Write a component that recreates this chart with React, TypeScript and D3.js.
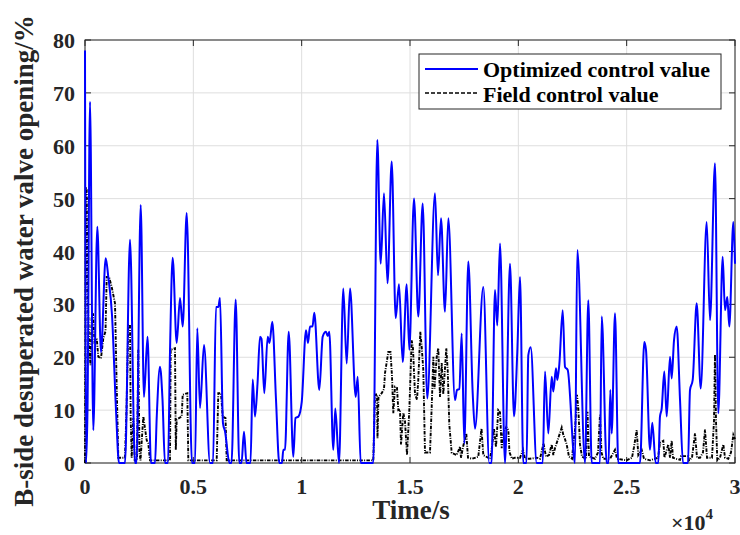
import React from "react";
import * as d3 from "d3";

// Optimized control value (time in s, opening in %)
const optTime = [
  0, 46, 115, 231, 383, 568, 738, 955, 1075, 1246, 1431, 1569, 1846, 2077, 2308, 2377, 2571, 2723, 2885, 3046,
  3231, 3309, 3462, 3577, 3692, 3831, 3923, 4046, 4232, 4385, 4509, 4694, 4938, 5077, 5183, 5308, 5492, 5769, 5908, 6046,
  6152, 6231, 6369, 6462, 6669, 6762, 6955, 7122, 7223, 7338, 7454, 7638, 7740, 7846, 7962, 8077, 8146, 8275, 8432, 8515,
  8645, 8815, 8968, 9092, 9152, 9231, 9402, 9614, 9715, 9854, 10002, 10200, 10292, 10385, 10500, 10583, 10814, 10971, 11123, 11202,
  11275, 11460, 11552, 11723, 11921, 12078, 12231, 12494, 12586, 12725, 13306, 13491, 13648, 13800, 13962, 14155, 14340, 14492, 14663, 14848,
  14968, 15185, 15383, 15586, 15798, 16154, 16292, 16431, 16615, 16768, 17077, 17169, 17275, 17386, 17506, 17691, 17894, 18000, 18383, 18660,
  18762, 18923, 19029, 19154, 19385, 19615, 19800, 19952, 20077, 20229, 20377, 20460, 20571, 20848, 21125, 21231, 21383, 21540, 21614, 21738,
  21798, 21891, 22048, 22154, 22278, 22615, 22722, 23077, 23229, 23386, 23769, 23848, 24078, 24162, 24245, 24309, 24462, 24614, 25615, 25814,
  25892, 26077, 26183, 26340, 26460, 26538, 26617, 26737, 26848, 27000, 27078, 27185, 27309, 27462, 27600, 27831, 27923, 28048, 28232, 28417,
  28694, 28846, 29077, 29229, 29431, 29538, 29645, 29737, 29923, 30000,
];
const optValue = [
  78, 0, 10, 68.3, 6.2, 44.7, 21, 38.7, 35.2, 28, 10, 0, 0, 42.2, 0, 0, 48.8, 12.5, 23.9, 0,
  0, 8.5, 18.2, 12, 0, 0, 21, 38.8, 22.7, 31.2, 25.8, 47.3, 0, 0, 25.5, 10.4, 22.3, 0, 0, 29.5,
  29.5, 31.2, 7.5, 6, 0, 0, 30.9, 0, 0, 5.9, 0, 0, 15.8, 8.8, 15, 23.9, 23.5, 13.2, 23.9, 22.7,
  26.7, 12, 0, 0, 2.5, 2.5, 24.8, 1.2, 8.5, 8.8, 11.5, 25.1, 22.7, 25.8, 25.8, 28.4, 13.8, 23.9, 24.8, 24,
  24.8, 2.5, 10.3, 0, 33, 18.8, 33, 12.5, 16.3, 0, 0, 61.1, 37.7, 51, 34, 57, 27.4, 33.8, 19.1, 33.8,
  21.4, 50, 27.7, 49.1, 12.2, 51, 35.5, 46.3, 28.6, 46.3, 11.9, 13.8, 14, 24.5, 3.7, 38.1, 13.2, 6.5, 33.3, 0,
  0, 32.7, 26, 41.5, 0, 37.7, 8.8, 21, 35.2, 0, 0, 20.4, 21.9, 0, 0, 17.3, 5.6, 16.3, 13.5, 17.9,
  15.7, 18.6, 28.9, 18.2, 17.6, 0, 40.3, 0, 30.8, 0, 0, 27.7, 0, 0, 13.8, 5.6, 28.3, 0, 0, 22.9,
  21.4, 2.5, 7.6, 0, 0, 8.8, 10.3, 17.3, 8.8, 20.1, 16, 23.2, 25.8, 12, 0, 0, 13.8, 15.7, 30.2, 14.1,
  45.6, 27, 56.7, 9.4, 39, 28.9, 31.4, 25.8, 45.6, 37.7,
];

// Field control value
const fieldTime = [
  0, 46, 78, 106, 138, 198, 254, 309, 369, 438, 540, 614, 738, 845, 946, 1002, 1108, 1232, 1385, 1463,
  1537, 1846, 1915, 1998, 2077, 2109, 2155, 2229, 2294, 2400, 2460, 2515, 2562, 2691, 2848, 2921, 3000, 3923, 3955, 4154,
  4191, 4232, 4463, 4509, 4722, 4768, 6078, 6152, 6277, 6355, 6485, 6540, 13306, 13385, 13477, 13500, 13546, 13694, 13800, 13846,
  13998, 14100, 14169, 14229, 14308, 14400, 14460, 14538, 14585, 14691, 14769, 14862, 14968, 15078, 15138, 15231, 15323, 15383, 15475, 15540,
  15614, 15692, 15923, 16002, 16077, 16131, 16232, 16306, 16385, 16463, 16537, 16675, 16740, 16814, 16925, 17155, 17308, 17354, 17446, 17598,
  17677, 17862, 18152, 18300, 18383, 18692, 18785, 18877, 18969, 19075, 19154, 19232, 19306, 19445, 19538, 19592, 19708, 19846, 20077, 20215,
  20308, 20538, 20848, 21000, 21162, 21277, 21415, 21540, 21614, 21692, 21845, 22002, 22077, 22154, 22232, 22338, 22477, 22546, 22615, 22708,
  22768, 22846, 22938, 23123, 23192, 23262, 23538, 23677, 23769, 23838, 23923, 24231, 24462, 24554, 25000, 25246, 25338, 25462, 25538, 25692,
  25800, 26077, 26308, 26446, 26538, 26691, 26746, 26921, 27000, 27078, 27138, 27277, 27462, 27508, 27845, 27877, 28015, 28154, 28246, 28385,
  28523, 28615, 28708, 28938, 29031, 29077, 29123, 29183, 29308, 29462, 29538, 29692, 29815, 29923, 30000,
];
const fieldValue = [
  0, 52, 52, 38, 30, 21.4, 18.5, 27.7, 28.3, 23, 23.6, 20.1, 19.8, 23.6, 24.9, 35.2, 35.2, 33.3, 30.2, 14.4,
  1, 1, 10, 26.1, 26.1, 8.5, 1, 8.5, 0.5, 0.5, 21.4, 2, 0.5, 8.8, 4.3, 3.7, 0.5, 0.5, 21.4, 21.7,
  2.5, 8.2, 8.8, 12.9, 13.2, 0.5, 0.5, 13.2, 13.2, 8.8, 8.5, 0.5, 0.5, 12.9, 13, 4.7, 12.5, 13.2, 14, 17,
  21, 21, 16.4, 9.4, 14.4, 14.2, 10, 10.1, 3.5, 9.5, 7.9, 1.5, 10, 23.2, 21.7, 13, 12, 15.8, 24.8, 22,
  17.6, 2, 2, 10.7, 20.1, 14, 20.1, 21.7, 12.5, 18.9, 13, 21.7, 17.6, 7.3, 1.9, 1.5, 3.1, 1, 3, 5.6,
  1, 0.8, 1.2, 6.5, 1.5, 0.8, 3, 6.5, 3, 10, 9.6, 2.8, 5.6, 6.8, 6.2, 2, 0.8, 1, 1, 2.5,
  0.8, 0.8, 1, 0.8, 3.7, 1.2, 1.5, 3.5, 1.5, 2.8, 4.7, 6.7, 5.3, 4.5, 3.5, 1.2, 0.8, 4, 6.2, 12.9,
  10.3, 3.5, 1.2, 0.8, 9.7, 1.2, 0.8, 2, 9.1, 2, 0.8, 0.8, 2.5, 0.8, 0.5, 1, 3, 6.2, 1.5, 2.5,
  0.8, 0.5, 0.8, 1, 3.8, 4.2, 1, 3.5, 1, 4.2, 1, 0.8, 0.6, 1.3, 1.3, 0.5, 1, 5.6, 1, 1,
  2, 6.3, 1, 1, 8, 20.5, 8, 0.5, 1, 3.5, 1, 0.8, 2, 5.3, 4.5,
];

const xTicks = [0, 5000, 10000, 15000, 20000, 25000, 30000];
const xTickLabels = ["0", "0.5", "1", "1.5", "2", "2.5", "3"];
const yTicks = [0, 10, 20, 30, 40, 50, 60, 70, 80];

const seriesNames = ["Optimized control value", "Field control value"];
const xLabel = "Time/s";
const yLabel = "B-side desuperated water valve opening/%";

const W = 740;
const H = 535;
const L = 85;
const R = 735;
const T = 40;
const B = 463;
const FONT = "'Liberation Serif', 'Times New Roman', serif";

export default function App() {
  const x = d3.scaleLinear().domain([0, 30000]).range([L, R]);
  const y = d3.scaleLinear().domain([0, 80]).range([B, T]);

  const optData = optTime.map((t, i) => [t, optValue[i]] as [number, number]);
  const fieldData = fieldTime.map((t, i) => [t, fieldValue[i]] as [number, number]);

  const optLine = d3
    .line<[number, number]>()
    .x((d) => x(d[0]))
    .y((d) => y(d[1]))
    .curve(d3.curveMonotoneX);
  const fieldLine = d3
    .line<[number, number]>()
    .x((d) => x(d[0]))
    .y((d) => y(d[1]));

  const axisColor = "#262626";
  const gridColor = "#dedede";
  const tick = 6;
  const dash = "3.5,1.3,1,1.3";

  return (
    <svg
      width={W}
      height={H}
      style={{ position: "absolute", left: 0, top: 0, background: "#fff" }}
      fontFamily={FONT}
    >
      <rect x={0} y={0} width={W} height={H} fill="#fff" />
      {/* grid */}
      {xTicks.map((t) => (
        <line key={"gx" + t} x1={x(t)} x2={x(t)} y1={T} y2={B} stroke={gridColor} strokeWidth={1} />
      ))}
      {yTicks.map((v) => (
        <line key={"gy" + v} x1={L} x2={R} y1={y(v)} y2={y(v)} stroke={gridColor} strokeWidth={1} />
      ))}
      <defs>
        <clipPath id="plotclip">
          <rect x={L - 2} y={T - 2} width={R - L + 3} height={B - T + 4} />
        </clipPath>
      </defs>
      {/* frame */}
      <rect x={L} y={T} width={R - L} height={B - T} fill="none" stroke={axisColor} strokeWidth={1} />
      {xTicks.map((t) => (
        <g key={"tx" + t}>
          <line x1={x(t)} x2={x(t)} y1={B} y2={B - tick} stroke={axisColor} />
          <line x1={x(t)} x2={x(t)} y1={T} y2={T + tick} stroke={axisColor} />
        </g>
      ))}
      {yTicks.map((v) => (
        <g key={"ty" + v}>
          <line x1={L} x2={L + tick} y1={y(v)} y2={y(v)} stroke={axisColor} />
          <line x1={R} x2={R - tick} y1={y(v)} y2={y(v)} stroke={axisColor} />
        </g>
      ))}
      <g clipPath="url(#plotclip)">
        <path d={fieldLine(fieldData) || ""} fill="none" stroke="#000" strokeWidth={1.9} strokeDasharray={dash} />
        <path d={optLine(optData) || ""} fill="none" stroke="#0000ff" strokeWidth={2} strokeLinejoin="round" />
      </g>
      {/* tick labels */}
      {xTicks.map((t, i) => (
        <text key={"lx" + t} x={x(t)} y={494} textAnchor="middle" fontSize={22} fontWeight="bold" fill="#262626">
          {xTickLabels[i]}
        </text>
      ))}
      {yTicks.map((v) => (
        <text key={"ly" + v} x={75} y={y(v) + 8} textAnchor="end" fontSize={22} fontWeight="bold" fill="#262626">
          {v}
        </text>
      ))}
      {/* exponent */}
      <text x={671} y={530} fontSize={22} fontWeight="bold" fill="#262626">
        ×10
        <tspan dy={-11} fontSize={15}>4</tspan>
      </text>
      {/* axis labels */}
      <text x={411} y={519} textAnchor="middle" fontSize={27} fontWeight="bold" fill="#262626">
        {xLabel}
      </text>
      <text
        transform={`translate(33, 261) rotate(-90)`}
        textAnchor="middle"
        fontSize={27}
        fontWeight="bold"
        fill="#262626"
      >
        {yLabel}
      </text>
      {/* legend */}
      <rect x={419} y={54} width={302} height={55} fill="#fff" stroke={axisColor} strokeWidth={1} />
      <line x1={425} x2={478} y1={69} y2={69} stroke="#0000ff" strokeWidth={2} />
      <line x1={425} x2={478} y1={93} y2={93} stroke="#000" strokeWidth={1.6} strokeDasharray="4,2" />
      <text x={483} y={77} fontSize={22} fontWeight="bold" fill="#000">
        {seriesNames[0]}
      </text>
      <text x={483} y={102} fontSize={22} fontWeight="bold" fill="#000">
        {seriesNames[1]}
      </text>
    </svg>
  );
}
